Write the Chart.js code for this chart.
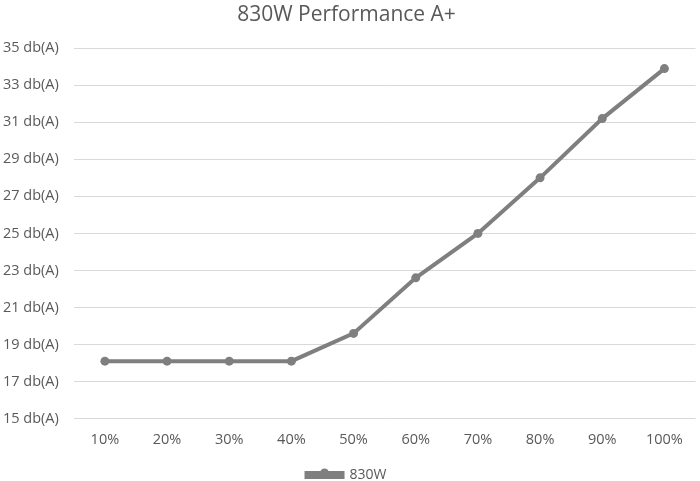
<!DOCTYPE html>
<html>
<head>
<meta charset="utf-8">
<script src="https://cdn.jsdelivr.net/npm/chart.js@4"></script>
<style>
    html, body { margin: 0; padding: 0; background: #fff; }
    #wrap { width: 700px; height: 481px; }
</style>
</head>
<body>
<div id="wrap"><canvas id="noise"></canvas></div>
<script>
const loads = ['10%', '20%', '30%', '40%', '50%', '60%', '70%', '80%', '90%', '100%'];
const noise830 = [18.1, 18.1, 18.1, 18.1, 19.6, 22.6, 25.0, 28.0, 31.2, 33.9];
const seriesName = '830W';
const yMin = 15, yMax = 35, yStep = 2;

const grey = '#7f7f7f';
const textGrey = '#595959';

// draw the little marker on top of the legend line, like excel does
const legendDot = {
    id: 'legendDot',
    afterDraw(chart) {
        const boxes = chart.legend.legendHitBoxes;
        if (!boxes || !boxes.length) return;
        const ctx = chart.ctx;
        const b = boxes[0];
        const w = chart.legend.options.labels.boxWidth;
        ctx.save();
        ctx.fillStyle = grey;
        ctx.beginPath();
        ctx.arc(b.left + w / 2, b.top + b.height / 2 - 2, 4.5, 0, Math.PI * 2);
        ctx.fill();
        ctx.restore();
    }
};

const ctxE = document.getElementById('noise');
const noiseChart = new Chart(ctxE, {
    type: 'line',
    data: {
        labels: loads,
        datasets: [{
            label: seriesName,
            data: noise830,
            borderColor: grey,
            backgroundColor: grey,
            borderWidth: 4,
            pointRadius: 4.5,
            pointBorderWidth: 0,
            pointBackgroundColor: grey,
            tension: 0
        }]
    },
    options: {
        responsive: true,
        maintainAspectRatio: false,
        animation: false,
        layout: { padding: { left: -12, right: -5, top: 2, bottom: -11 } },
        plugins: {
            title: {
                display: true,
                text: '830W Performance A+',
                color: textGrey,
                font: { family: 'Open Sans', size: 21, weight: 'normal' },
                padding: { top: 0, bottom: 21 }
            },
            legend: {
                position: 'bottom',
                labels: {
                    color: textGrey,
                    font: { family: 'Open Sans', size: 14 },
                    boxWidth: 36,
                    boxHeight: 4,
                    padding: 14
                }
            },
            tooltip: { enabled: false }
        },
        scales: {
            x: {
                offset: true,
                grid: { display: false },
                border: { display: false },
                ticks: {
                    color: textGrey,
                    font: { family: 'Open Sans', size: 14.5 },
                    padding: 5,
                    maxRotation: 0
                }
            },
            y: {
                min: yMin,
                max: yMax,
                grid: { color: '#d9d9d9', lineWidth: 1, drawTicks: false },
                border: { display: false },
                ticks: {
                    stepSize: yStep,
                    color: textGrey,
                    font: { family: 'Open Sans', size: 14.5 },
                    padding: 15,
                    callback: function (v) { return v + ' db(A)'; }
                }
            }
        }
    },
    plugins: [legendDot]
});
</script>
</body>
</html>
